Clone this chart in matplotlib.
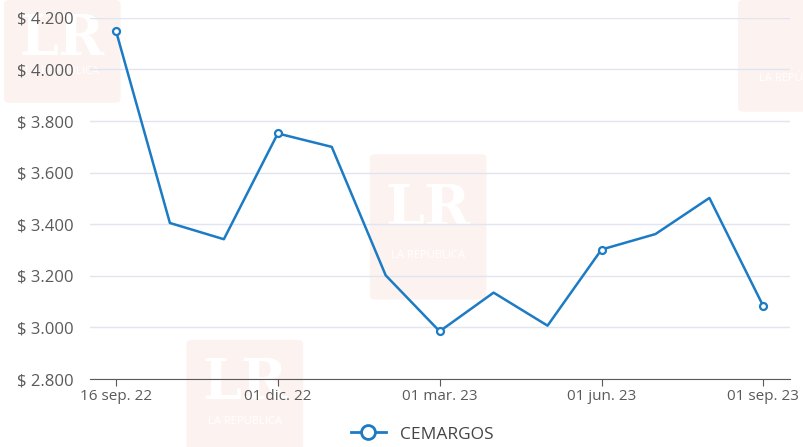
import matplotlib.pyplot as plt
from matplotlib.patches import FancyBboxPatch

# datos
fechas = ["16 sep. 22", "", "", "01 dic. 22", "", "", "01 mar. 23", "", "",
          "01 jun. 23", "", "", "01 sep. 23"]
precios = [4150, 3405, 3342, 3752, 3700, 3202, 2985, 3135, 3007,
           3302, 3362, 3502, 3082]
con_marca = [0, 3, 6, 9, 12]
y_ticks = [2800, 3000, 3200, 3400, 3600, 3800, 4000, 4200]

color = "#1b7bc4"
gris = "#5a5a5a"

plt.rcParams["font.family"] = ["Open Sans", "DejaVu Sans"]

fig = plt.figure(figsize=(8.04, 4.47), dpi=100)
ax = fig.add_axes([0.112, 0.152, 0.871, 0.808])
ax.set_zorder(2)

# marcas de agua LR (detras de todo)
def marca(x0, y0, w, h, lr=True):
    box = FancyBboxPatch((x0, y0), w, h, boxstyle="round,pad=0,rounding_size=0.008",
                         transform=fig.transFigure, facecolor="#f9e3de",
                         edgecolor="none", alpha=0.45, zorder=-3)
    fig.patches.append(box)
    if lr:
        fig.text(x0 + w / 2, y0 + h * 0.62, "LR", transform=fig.transFigure,
                 ha="center", va="center", color="white", fontsize=40,
                 family="DejaVu Serif", fontweight="bold", zorder=-2)
    fig.text(x0 + w / 2, y0 + h * 0.3, "LA REPÚBLICA", transform=fig.transFigure,
             ha="center", va="center", color="white", fontsize=8, zorder=-2)

marca(0.005, 0.77, 0.145, 0.23)
marca(0.46, 0.33, 0.145, 0.325)
marca(0.232, -0.02, 0.145, 0.26)
marca(0.918, 0.75, 0.145, 0.25, lr=False)

x = list(range(len(precios)))
ax.plot(x, precios, color=color, lw=1.8, zorder=3, label="CEMARGOS")
ax.plot([x[i] for i in con_marca], [precios[i] for i in con_marca], "o",
        color=color, mfc="white", mew=1.6, ms=5, zorder=4)

ax.set_xlim(-0.48, 12.5)
ax.set_ylim(2800, 4200)
ax.set_yticks(y_ticks)
ax.set_yticklabels(["$ " + f"{v:,}".replace(",", ".") for v in y_ticks])
ax.set_xticks(con_marca)
ax.set_xticklabels([fechas[i] for i in con_marca])

ax.grid(axis="y", color="#e1e5f1", lw=1)
ax.set_axisbelow(True)
ax.patch.set_alpha(0)
for s in ["top", "right", "left"]:
    ax.spines[s].set_visible(False)
ax.spines["bottom"].set_color(gris)
ax.tick_params(axis="y", length=0, pad=12, labelsize=12, labelcolor=gris)
ax.tick_params(axis="x", length=5, color=gris, labelsize=11, labelcolor=gris, pad=2)

leg_line, = ax.plot([], [], "o-", color=color, mfc="white", mew=2, ms=10, lw=2)
fig.legend([leg_line], ["CEMARGOS"], loc="lower center", bbox_to_anchor=(0.525, -0.025),
           frameon=False, fontsize=12.5, labelcolor="#444444", handlelength=2.0)

fig.savefig("out.png", dpi=100)
